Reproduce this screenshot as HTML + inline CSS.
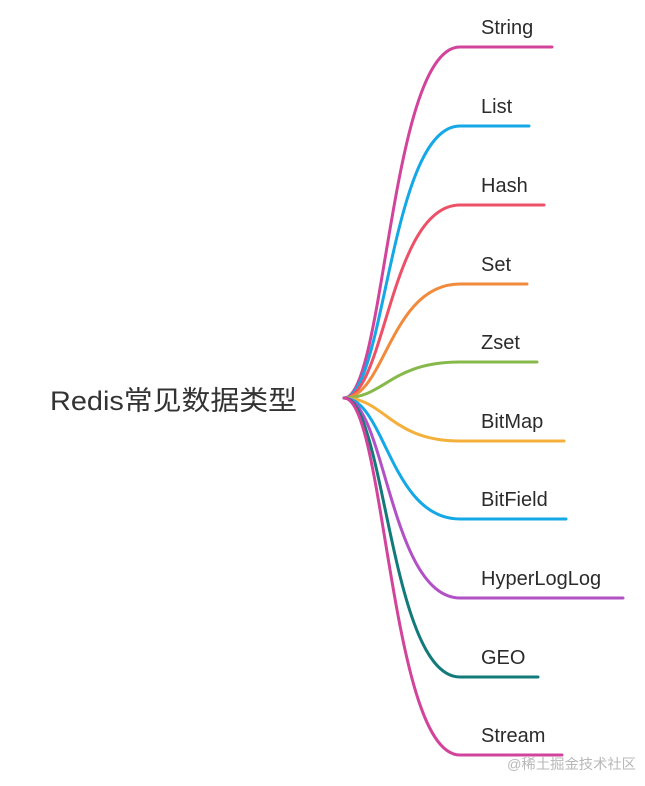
<!DOCTYPE html>
<html><head><meta charset="utf-8"><style>
html,body{margin:0;padding:0;background:#fff;}
svg{display:block;}
</style></head><body>
<svg width="645" height="786" viewBox="0 0 645 786" xmlns="http://www.w3.org/2000/svg">
<g fill="none" stroke-width="3" stroke-linecap="round">
<path d="M344 398 C385 398 390 47 460 47 L552 47" stroke="#d2449b"/>
<path d="M344 398 C385 398 390 126 460 126 L529 126" stroke="#15a8e6"/>
<path d="M344 398 C385 398 390 205 460 205 L544 205" stroke="#ec5168"/>
<path d="M344 398 C385 398 390 284 460 284 L527 284" stroke="#f28a3c"/>
<path d="M344 398 C385 398 390 362 460 362 L537 362" stroke="#86b84a"/>
<path d="M344 398 C385 398 390 441 460 441 L564 441" stroke="#f4b03a"/>
<path d="M344 398 C385 398 390 519 460 519 L566 519" stroke="#15a8e6"/>
<path d="M344 398 C385 398 390 598 460 598 L623 598" stroke="#b251c6"/>
<path d="M344 398 C385 398 390 677 460 677 L538 677" stroke="#137a7a"/>
<path d="M344 398 C385 398 390 755 460 755 L562 755" stroke="#d2449b"/>
</g>
<g font-family="'Liberation Sans','Noto Sans CJK SC',sans-serif" font-size="20" fill="#2b2b2b">
<text x="481" y="34">String</text>
<text x="481" y="113">List</text>
<text x="481" y="192">Hash</text>
<text x="481" y="271">Set</text>
<text x="481" y="349">Zset</text>
<text x="481" y="428">BitMap</text>
<text x="481" y="506">BitField</text>
<text x="481" y="585">HyperLogLog</text>
<text x="481" y="664">GEO</text>
<text x="481" y="742">Stream</text>
</g>
<text x="50" y="410" font-family="'Liberation Sans','Noto Sans CJK SC',sans-serif" font-size="27" fill="#333" textLength="247" lengthAdjust="spacingAndGlyphs">Redis常见数据类型</text>
<text x="507" y="769" font-family="'Liberation Sans','Noto Sans CJK SC',sans-serif" font-size="14" fill="#b8b8b8" textLength="129" lengthAdjust="spacingAndGlyphs">@稀土掘金技术社区</text>
</svg>
</body></html>
